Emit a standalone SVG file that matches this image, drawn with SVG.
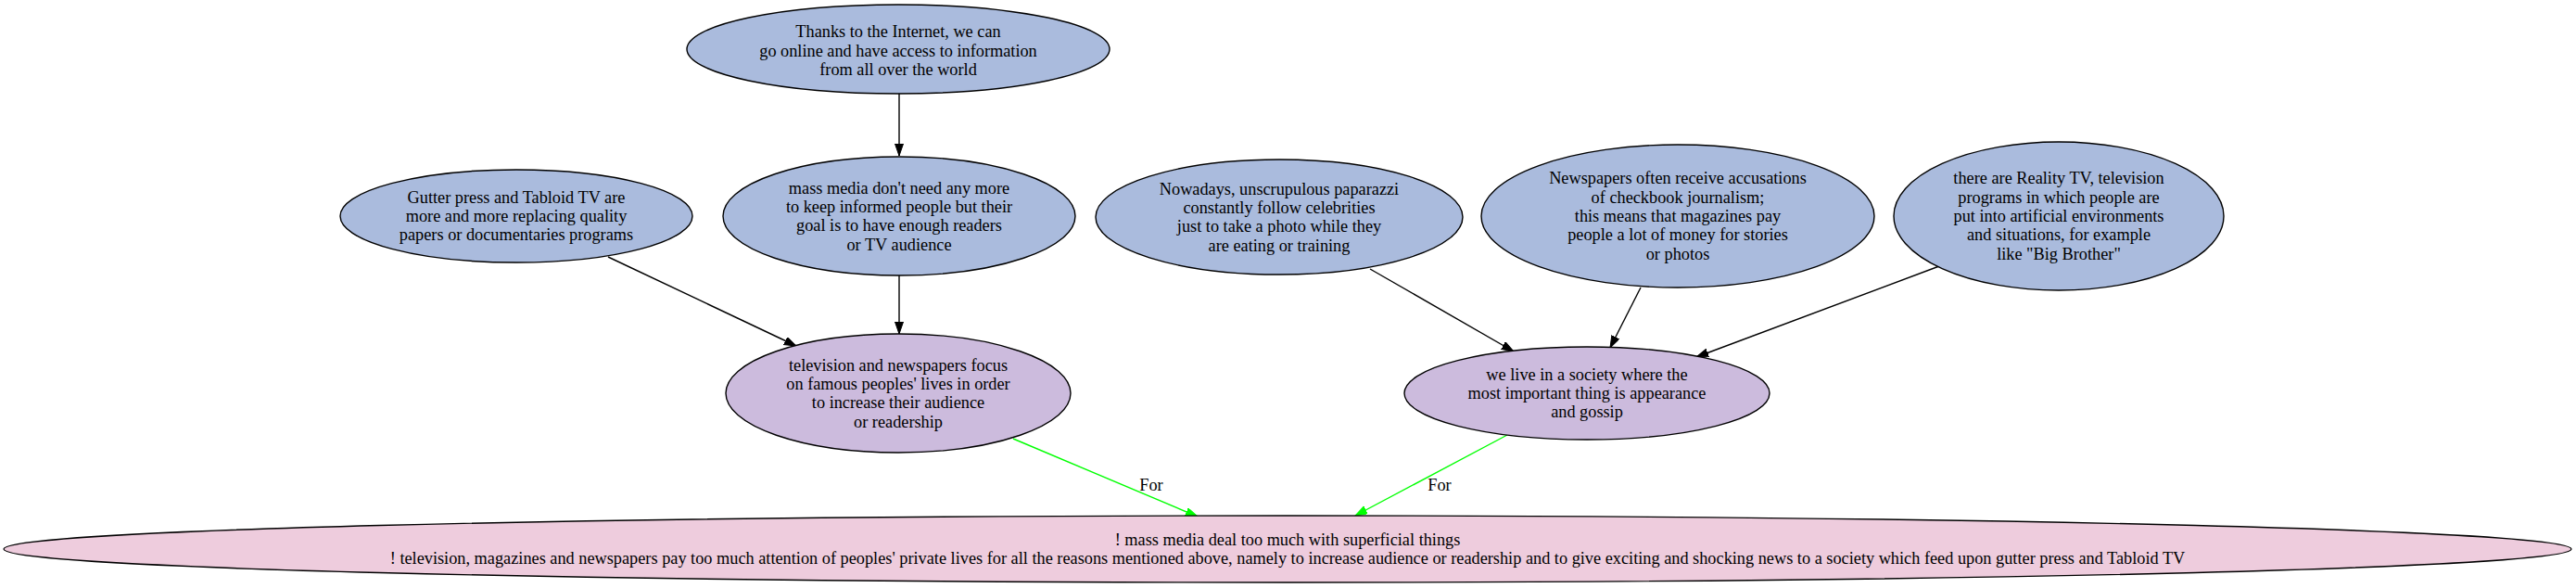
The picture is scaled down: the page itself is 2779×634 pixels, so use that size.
<svg xmlns="http://www.w3.org/2000/svg" width="2779" height="634" viewBox="0 0 2779 634">
<style>
text{font-family:"Liberation Serif","Times New Roman",serif;font-size:18.3px;fill:#000;text-anchor:middle}
.n1 ellipse{fill:#aabbdd;stroke:#000;stroke-width:1.4}
.n2 ellipse{fill:#ccbbdd;stroke:#000;stroke-width:1.4}
.n3 ellipse{fill:#eeccdd;stroke:#000;stroke-width:1.4}
.e{stroke:#000;stroke-width:1.4;fill:none;marker-end:url(#ab)}
.g{stroke:#00ff00;stroke-width:1.4;fill:none;marker-end:url(#ag)}
</style>
<defs>
<marker id="ab" markerUnits="userSpaceOnUse" markerWidth="14" markerHeight="10" refX="13" refY="4.5" orient="auto"><path d="M0,0 L13,4.5 L0,9 z" fill="#000" stroke="#000" stroke-width="1"/></marker>
<marker id="ag" markerUnits="userSpaceOnUse" markerWidth="14" markerHeight="10" refX="13" refY="4.5" orient="auto"><path d="M0,0 L13,4.5 L0,9 z" fill="#00ff00" stroke="#00ff00" stroke-width="1"/></marker>
</defs>
<rect width="2779" height="634" fill="#fff"/>
<g id="edges">
<line class="e" x1="970" y1="101" x2="970" y2="168"/>
<line class="e" x1="656" y1="277" x2="859" y2="373"/>
<line class="e" x1="970" y1="297" x2="970" y2="360"/>
<line class="e" x1="1478" y1="290" x2="1633" y2="379"/>
<line class="e" x1="1770" y1="310" x2="1737" y2="375"/>
<line class="e" x1="2092" y1="287" x2="1830" y2="385"/>
<line class="g" x1="1093" y1="473" x2="1292" y2="557"/>
<line class="g" x1="1626" y1="469" x2="1462" y2="556"/>
<text x="1242" y="529">For</text>
<text x="1553" y="529">For</text>
</g>
<g id="thanks" class="n1">
<ellipse cx="969" cy="53" rx="228" ry="48"/>
<text x="969" y="40">Thanks to the Internet, we can</text>
<text x="969" y="60.5">go online and have access to information</text>
<text x="969" y="81">from all over the world</text>
</g>
<g id="gutter" class="n1">
<ellipse cx="557" cy="233" rx="190" ry="50"/>
<text x="557" y="218.7">Gutter press and Tabloid TV are</text>
<text x="557" y="239">more and more replacing quality</text>
<text x="557" y="259.3">papers or documentaries programs</text>
</g>
<g id="massmedia" class="n1">
<ellipse cx="970" cy="233" rx="190" ry="64"/>
<text x="970" y="208.5">mass media don't need any more</text>
<text x="970" y="228.8">to keep informed people but their</text>
<text x="970" y="249.2">goal is to have enough readers</text>
<text x="970" y="269.5">or TV audience</text>
</g>
<g id="nowadays" class="n1">
<ellipse cx="1380" cy="234" rx="198" ry="62"/>
<text x="1380" y="209.5">Nowadays, unscrupulous paparazzi</text>
<text x="1380" y="229.8">constantly follow celebrities</text>
<text x="1380" y="250.2">just to take a photo while they</text>
<text x="1380" y="270.5">are eating or training</text>
</g>
<g id="newspapers" class="n1">
<ellipse cx="1810" cy="233" rx="212" ry="77"/>
<text x="1810" y="198.4">Newspapers often receive accusations</text>
<text x="1810" y="218.7">of checkbook journalism;</text>
<text x="1810" y="239">this means that magazines pay</text>
<text x="1810" y="259.3">people a lot of money for stories</text>
<text x="1810" y="279.6">or photos</text>
</g>
<g id="reality" class="n1">
<ellipse cx="2221" cy="233" rx="178" ry="80"/>
<text x="2221" y="198.4">there are Reality TV, television</text>
<text x="2221" y="218.7">programs in which people are</text>
<text x="2221" y="239">put into artificial environments</text>
<text x="2221" y="259.3">and situations, for example</text>
<text x="2221" y="279.6">like "Big Brother"</text>
</g>
<g id="television" class="n2">
<ellipse cx="969" cy="424" rx="186" ry="64"/>
<text x="969" y="399.5">television and newspapers focus</text>
<text x="969" y="419.8">on famous peoples' lives in order</text>
<text x="969" y="440.2">to increase their audience</text>
<text x="969" y="460.5">or readership</text>
</g>
<g id="society" class="n2">
<ellipse cx="1712" cy="424" rx="197" ry="50"/>
<text x="1712" y="409.7">we live in a society where the</text>
<text x="1712" y="430">most important thing is appearance</text>
<text x="1712" y="450.3">and gossip</text>
</g>
<g id="conclusion" class="n3">
<ellipse cx="1389" cy="592" rx="1385" ry="36"/>
<text x="1389" y="588">! mass media deal too much with superficial things</text>
<text x="1389" y="608">! television, magazines and newspapers pay too much attention of peoples' private lives for all the reasons mentioned above, namely to increase audience or readership and to give exciting and shocking news to a society which feed upon gutter press and Tabloid TV</text>
</g>
</svg>
